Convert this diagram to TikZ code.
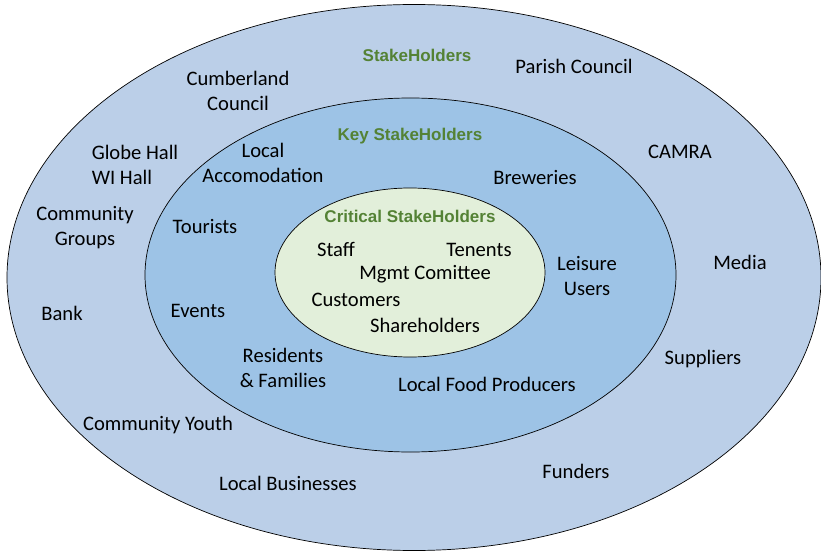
\documentclass[tikz,border=0pt]{standalone}
\usepackage{fontspec}
\setmainfont{Carlito}
\newfontfamily\titlefont{Liberation Sans}
\definecolor{outerblue}{RGB}{187,207,232}
\definecolor{midblue}{RGB}{157,195,230}
\definecolor{innergreen}{RGB}{226,239,218}
\definecolor{titlegreen}{RGB}{84,130,53}
\begin{document}
\begin{tikzpicture}[x=1pt,y=-1pt,
  ring/.style={draw=black,line width=0.7pt},
  item/.style={font=\fontsize{20.6}{25}\selectfont,align=center,inner sep=0pt,text=black},
  title/.style={font=\titlefont\bfseries\fontsize{17}{20}\selectfont,text=titlegreen,inner sep=0pt}]
\useasboundingbox (0,0) rectangle (821,553);
% three nested stakeholder rings
\fill[white] (0,0) rectangle (821,553);
\filldraw[ring,fill=outerblue] (414,277.5) ellipse [x radius=407, y radius=273];
\filldraw[ring,fill=midblue] (410.5,275) ellipse [x radius=265.5, y radius=177];
\filldraw[ring,fill=innergreen] (410,272.5) ellipse [x radius=135, y radius=84.5];
% ring titles
\node[title] (tOuter) at (417,55) {StakeHolders};
\node[title] (tKey) at (410,136) {Key StakeHolders};
\node[title] (tCrit) at (410,216) {Critical StakeHolders};
% outer ring
\node[item] (cumb) at (238,91) {Cumberland\\Council};
\node[item] (parish) at (574,66.5) {Parish Council};
\node[item,align=left] (globe) at (135,164.5) {Globe Hall\\WI Hall};
\node[item] (cgroups) at (85,227.5) {Community\\Groups};
\node[item] (camra) at (680,152) {CAMRA};
\node[item] (media) at (740,262) {Media};
\node[item] (bank) at (62,313) {Bank};
\node[item] (suppliers) at (703,359.5) {Suppliers};
\node[item] (cyouth) at (158,425.5) {Community Youth};
\node[item] (lbus) at (288,483.5) {Local Businesses};
\node[item] (funders) at (576,471.5) {Funders};
% key ring
\node[item] (accom) at (263,163) {Local\\Accomodation};
\node[item] (brew) at (535,177.5) {Breweries};
\node[item] (tour) at (205,226.5) {Tourists};
\node[item] (leisure) at (587,276) {Leisure\\Users};
\node[item] (events) at (198,311) {Events};
\node[item] (resid) at (283,368) {Residents\\\& Families};
\node[item] (food) at (487,384.5) {Local Food Producers};
% critical core
\node[item] (staff) at (336,249.5) {Staff};
\node[item] (ten) at (479,249.5) {Tenents};
\node[item] (mgmt) at (425,274.5) {Mgmt Comittee};
\node[item] (cust) at (356,299.5) {Customers};
\node[item] (share) at (425,325.5) {Shareholders};
\end{tikzpicture}
\end{document}
